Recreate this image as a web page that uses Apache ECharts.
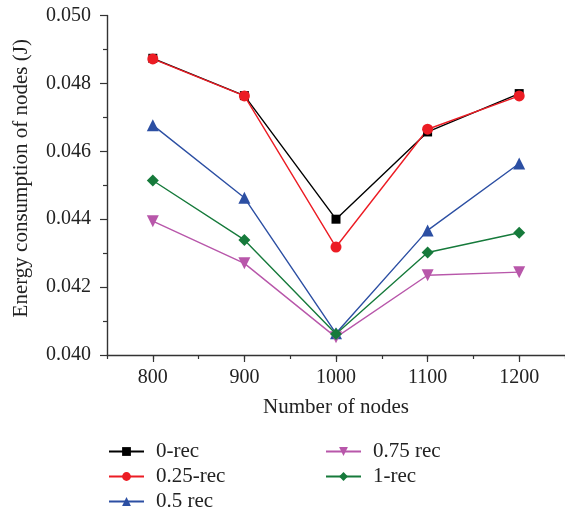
<!DOCTYPE html>
<html>
<head>
<meta charset="utf-8">
<script src="https://cdn.jsdelivr.net/npm/echarts@6/dist/echarts.min.js"></script>
<style>html,body{margin:0;padding:0;background:#fff;}#c{width:565px;height:515px;}</style>
</head>
<body>
<div id="c"></div>
<script>
var categories = ['800', '900', '1000', '1100', '1200'];
var rec0   = [0.04874, 0.04764, 0.04400, 0.04657, 0.04770];
var rec025 = [0.04872, 0.04763, 0.04318, 0.04665, 0.04763];
var rec05  = [0.04677, 0.04463, 0.04064, 0.04367, 0.04564];
var rec075 = [0.04394, 0.04270, 0.04052, 0.04235, 0.04244];
var rec1   = [0.04514, 0.04339, 0.04062, 0.04302, 0.04360];
var yTicks = [0.040, 0.042, 0.044, 0.046, 0.048, 0.050];

var FONT = 'Liberation Serif';
var TXT = '#222';
var chart = echarts.init(document.getElementById('c'), null, {renderer: 'canvas'});

function mk(name, data, color, symbol, size, rot) {
  return {
    name: name, type: 'line', data: data, xAxisIndex: 0,
    symbol: symbol, symbolSize: size, symbolRotate: rot || 0,
    lineStyle: {color: color, width: 1.4},
    itemStyle: {color: color},
    emphasis: {disabled: true}, animation: false
  };
}

chart.setOption({
  animation: false,
  textStyle: {fontFamily: FONT, color: TXT},
  grid: {left: 107, top: 15.5, width: 460, height: 339.5, containLabel: false},
  xAxis: [{
    type: 'category', data: categories, boundaryGap: true,
    name: 'Number of nodes', nameLocation: 'middle', nameGap: 42,
    nameTextStyle: {fontFamily: FONT, fontSize: 21, color: TXT},
    axisLine: {show: true, lineStyle: {color: '#333', width: 1.4}},
    axisTick: {show: true, alignWithLabel: true, length: 7, inside: false, lineStyle: {color: '#333', width: 1.2}},
    axisLabel: {fontFamily: FONT, fontSize: 20, color: TXT, margin: 13},
    splitLine: {show: false}
  }, {
    type: 'value', min: 750, max: 1250, interval: 50, position: 'bottom',
    axisLine: {show: false},
    axisTick: {show: true, length: 4, lineStyle: {color: '#333', width: 1.2}},
    axisLabel: {show: false}, splitLine: {show: false}
  }],
  yAxis: {
    type: 'value', min: 0.040, max: 0.050, interval: 0.002,
    name: 'Energy consumption of nodes (J)', nameLocation: 'middle', nameGap: 75,
    nameTextStyle: {fontFamily: FONT, fontSize: 21, color: TXT, padding: [0, 0, 0, 14]},
    axisLine: {show: true, lineStyle: {color: '#333', width: 1.4}},
    axisTick: {show: true, length: 7, lineStyle: {color: '#333', width: 1.2}},
    minorTick: {show: true, splitNumber: 2, length: 4, lineStyle: {color: '#333', width: 1.2}},
    axisLabel: {fontFamily: FONT, fontSize: 20, color: TXT, margin: 16,
      formatter: function (v) { return v.toFixed(3); }},
    splitLine: {show: false}
  },
  legend: [{
    data: ['0-rec', '0.25-rec', '0.5 rec'], orient: 'vertical', left: 108, top: 441,
    itemWidth: 35, itemHeight: 11, itemGap: 4, padding: 0,
    textStyle: {fontFamily: FONT, fontSize: 21, color: TXT, padding: [0, 0, 0, 7]}
  }, {
    data: ['0.75 rec', '1-rec'], orient: 'vertical', left: 325, top: 441,
    itemWidth: 35, itemHeight: 11, itemGap: 4, padding: 0,
    textStyle: {fontFamily: FONT, fontSize: 21, color: TXT, padding: [0, 0, 0, 7]}
  }],
  series: [
    mk('0-rec', rec0, '#000000', 'rect', 9),
    mk('0.25-rec', rec025, '#ec1c24', 'circle', 11),
    mk('0.5 rec', rec05, '#2c4fa3', 'triangle', 12),
    mk('0.75 rec', rec075, '#b857aa', 'triangle', 12, 180),
    mk('1-rec', rec1, '#167a3b', 'diamond', 12)
  ]
});
</script>
</body>
</html>
